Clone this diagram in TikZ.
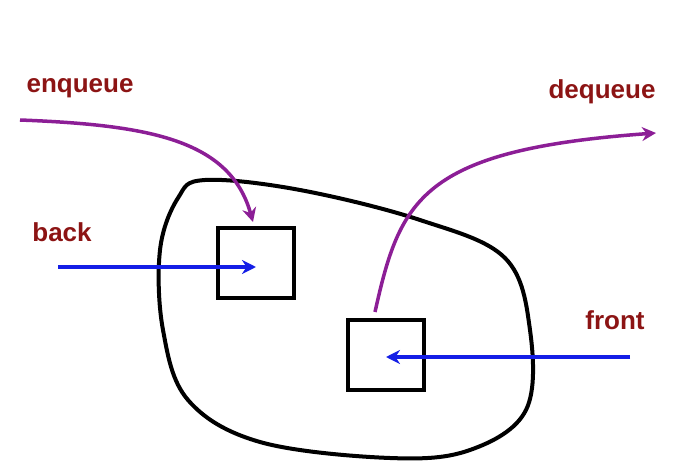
\documentclass[tikz,border=0pt]{standalone}
\usepackage{fontspec}
\setmainfont{Liberation Sans}
\usetikzlibrary{arrows.meta}
\definecolor{labelred}{RGB}{140,20,20}
\definecolor{qpurple}{RGB}{140,30,150}
\definecolor{qblue}{RGB}{20,30,230}
\begin{document}
\begin{tikzpicture}[x=1pt,y=-1pt,
    lbl/.style={text=labelred,font=\fontsize{26}{30}\selectfont\bfseries},
    cell/.style={draw,line width=3.5pt,minimum width=76pt,minimum height=70pt},
    ptr/.style={qblue,line width=3.5pt,-{Stealth[length=14pt,width=14pt]}},
    op/.style={qpurple,line width=3.5pt,-{Stealth[length=14pt,width=14pt]}}]
    \useasboundingbox (0,0) rectangle (696,476);

    % the queue
    \draw[line width=4pt] plot[smooth cycle,tension=0.6] coordinates
      {(205,180) (300,190) (420,220) (505,258) (530,330) (526,410)
       (470,450) (390,458) (260,442) (188,400) (163,330) (160,250) (178,198)};

    \node[cell] (backcell) at (256,263) {};
    \node[cell] (frontcell) at (386,355) {};

    \node[lbl] (enq) at (80,88) {enqueue};
    \node[lbl] (deq) at (602,92) {dequeue};
    \node[lbl] (back) at (62,232) {back};
    \node[lbl] (front) at (615,320) {front};

    \coordinate (enqstart) at (20,120);
    \coordinate (enqend) at (253,222);
    \coordinate (deqstart) at (375,312);
    \coordinate (deqend) at (656,133);
    \coordinate (backstart) at (58,267);
    \coordinate (frontstart) at (630,357);

    \draw[op] (enqstart) .. controls (150,125) and (230,140) .. (enqend);
    \draw[op] (deqstart) .. controls (400,200) and (420,150) .. (deqend);
    \draw[ptr] (backstart) -- (backcell.center |- backstart);
    \draw[ptr] (frontstart) -- (frontcell.center |- frontstart);
\end{tikzpicture}
\end{document}
